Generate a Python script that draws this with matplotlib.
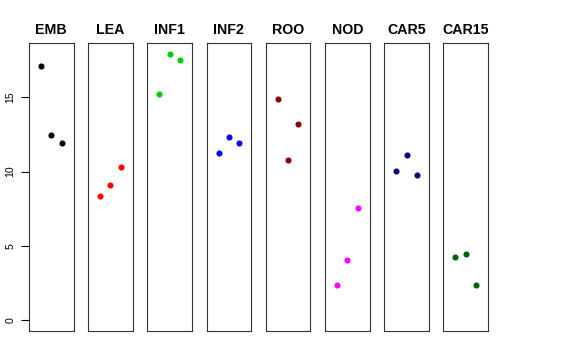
import matplotlib
matplotlib.use("Agg")
import matplotlib.pyplot as plt

plt.rcParams["font.family"] = ["Liberation Sans", "DejaVu Sans"]

# stage names, colours and the three replicate values per stage
stages = ["EMB", "LEA", "INF1", "INF2", "ROO", "NOD", "CAR5", "CAR15"]
colors = ["#000000", "#FF0000", "#00CD00", "#0000FF", "#8B0000", "#FF00FF", "#00008B", "#006400"]
values = [
    [17.10, 12.48, 11.92],
    [8.38, 9.08, 10.31],
    [15.20, 17.93, 17.48],
    [11.27, 12.31, 11.90],
    [14.86, 10.80, 13.18],
    [2.35, 4.08, 7.57],
    [10.02, 11.10, 9.79],
    [4.26, 4.48, 2.35],
]
replicates = [1, 2, 3]
yticks = [0, 5, 10, 15]

W, H = 576, 360
fig = plt.figure(figsize=(W / 100, H / 100), dpi=100)
gs = fig.add_gridspec(1, len(stages), left=29 / W, right=488 / W,
                      bottom=29 / H, top=1 - 43 / H, wspace=0.33)

ymax = max(max(v) for v in values)
yr = ymax * 0.04

for i, (name, col, vals) in enumerate(zip(stages, colors, values)):
    ax = fig.add_subplot(gs[0, i])
    ax.plot(replicates, vals, "o", color=col, markersize=4.4, markeredgewidth=0)
    ax.set_xlim(-0.16, 4.16)
    ax.set_ylim(-yr, ymax + yr)
    ax.set_title(name, fontsize=10.2, fontweight="bold", pad=6.5)
    ax.set_xticks([])
    for s in ax.spines.values():
        s.set_linewidth(0.8)
        s.set_color("#333333")
    if i == 0:
        ax.set_yticks(yticks)
        ax.set_yticklabels([str(t) for t in yticks], rotation=90, va="center")
        ax.tick_params(axis="y", length=5.8, width=0.8, labelsize=7.6, pad=4)
    else:
        ax.set_yticks([])

fig.savefig("out.png", dpi=100)
